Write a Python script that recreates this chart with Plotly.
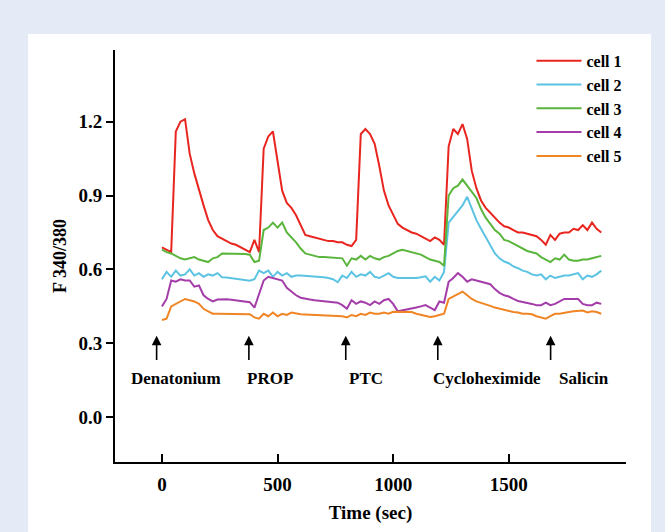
import plotly.graph_objects as go

# ---------------- data ----------------
time_s = list(range(0, 1901, 20))

cell_1 = [0.69, 0.68, 0.67, 1.16, 1.20, 1.21, 1.07, 0.99, 0.92, 0.86,
          0.80, 0.76, 0.735, 0.725, 0.715, 0.705, 0.70, 0.69, 0.68, 0.67,
          0.72, 0.67, 1.09, 1.14, 1.16, 1.03, 0.92, 0.87, 0.85, 0.82,
          0.78, 0.74, 0.735, 0.73, 0.725, 0.72, 0.715, 0.715, 0.71, 0.71,
          0.70, 0.695, 0.72, 1.15, 1.17, 1.15, 1.11, 1.02, 0.92, 0.86,
          0.82, 0.785, 0.77, 0.76, 0.75, 0.745, 0.735, 0.725, 0.715, 0.73,
          0.72, 0.70, 1.10, 1.17, 1.15, 1.19, 1.13, 1.00, 0.93, 0.88,
          0.85, 0.83, 0.81, 0.79, 0.775, 0.77, 0.76, 0.75, 0.75, 0.745,
          0.74, 0.735, 0.72, 0.70, 0.74, 0.72, 0.745, 0.75, 0.75, 0.765,
          0.76, 0.78, 0.76, 0.79, 0.765, 0.75]

cell_2 = [0.56, 0.59, 0.57, 0.595, 0.575, 0.58, 0.60, 0.575, 0.585, 0.57,
          0.58, 0.575, 0.585, 0.568, 0.567, 0.565, 0.562, 0.56, 0.557, 0.554,
          0.56, 0.595, 0.585, 0.595, 0.57, 0.59, 0.575, 0.585, 0.57, 0.575,
          0.575, 0.574, 0.572, 0.571, 0.57, 0.568, 0.565, 0.56, 0.548, 0.575,
          0.565, 0.59, 0.57, 0.58, 0.575, 0.59, 0.57, 0.565, 0.575, 0.585,
          0.57, 0.565, 0.565, 0.564, 0.563, 0.565, 0.568, 0.572, 0.55, 0.57,
          0.555, 0.59, 0.79, 0.815, 0.84, 0.86, 0.895, 0.845, 0.80, 0.765,
          0.73, 0.695, 0.665, 0.645, 0.632, 0.625, 0.612, 0.605, 0.595, 0.59,
          0.58, 0.575, 0.58, 0.56, 0.575, 0.565, 0.57, 0.575, 0.575, 0.58,
          0.585, 0.56, 0.575, 0.57, 0.58, 0.595]

cell_3 = [0.68, 0.67, 0.665, 0.655, 0.645, 0.64, 0.645, 0.65, 0.64, 0.635,
          0.63, 0.645, 0.65, 0.665, 0.665, 0.665, 0.664, 0.664, 0.663, 0.66,
          0.63, 0.635, 0.76, 0.77, 0.79, 0.77, 0.79, 0.75, 0.73, 0.71,
          0.685, 0.665, 0.66, 0.655, 0.65, 0.65, 0.649, 0.649, 0.649, 0.645,
          0.615, 0.645, 0.64, 0.655, 0.64, 0.655, 0.645, 0.64, 0.65, 0.655,
          0.665, 0.675, 0.68, 0.675, 0.67, 0.665, 0.66, 0.65, 0.64, 0.635,
          0.63, 0.615, 0.90, 0.93, 0.94, 0.965, 0.94, 0.915, 0.89, 0.845,
          0.81, 0.785, 0.76, 0.745, 0.72, 0.715, 0.705, 0.695, 0.685, 0.675,
          0.67, 0.665, 0.65, 0.64, 0.63, 0.645, 0.64, 0.66, 0.64, 0.635,
          0.635, 0.64, 0.64, 0.645, 0.65, 0.655]

cell_4 = [0.45, 0.48, 0.555, 0.55, 0.56, 0.555, 0.555, 0.53, 0.535, 0.495,
          0.48, 0.47, 0.478, 0.48, 0.479, 0.477, 0.475, 0.473, 0.47, 0.467,
          0.445, 0.50, 0.555, 0.57, 0.565, 0.56, 0.555, 0.525, 0.51, 0.495,
          0.485, 0.48, 0.478, 0.475, 0.473, 0.47, 0.468, 0.467, 0.465, 0.455,
          0.44, 0.475, 0.46, 0.47, 0.465, 0.455, 0.47, 0.46, 0.475, 0.48,
          0.46, 0.43, 0.433, 0.437, 0.441, 0.445, 0.45, 0.455, 0.445, 0.435,
          0.47, 0.465, 0.55, 0.565, 0.585, 0.57, 0.55, 0.56, 0.555, 0.55,
          0.545, 0.54, 0.52, 0.505, 0.495, 0.49, 0.48, 0.472, 0.468, 0.465,
          0.46, 0.455, 0.455, 0.465, 0.455, 0.46, 0.47, 0.48, 0.48, 0.48,
          0.48, 0.46, 0.455, 0.455, 0.465, 0.46]

cell_5 = [0.395, 0.40, 0.45, 0.46, 0.47, 0.48, 0.475, 0.47, 0.46, 0.44,
          0.43, 0.42, 0.42, 0.42, 0.42, 0.42, 0.42, 0.42, 0.42, 0.418,
          0.405, 0.40, 0.42, 0.41, 0.425, 0.41, 0.42, 0.415, 0.425, 0.42,
          0.418, 0.417, 0.416, 0.415, 0.414, 0.413, 0.412, 0.41, 0.408, 0.41,
          0.405, 0.415, 0.41, 0.42, 0.415, 0.425, 0.42, 0.42, 0.425, 0.42,
          0.428, 0.427, 0.427, 0.427, 0.427, 0.42, 0.415, 0.41, 0.407, 0.41,
          0.415, 0.42, 0.48, 0.49, 0.50, 0.51, 0.495, 0.48, 0.47, 0.465,
          0.458, 0.452, 0.445, 0.44, 0.435, 0.43, 0.427, 0.425, 0.42, 0.42,
          0.418, 0.41, 0.405, 0.40, 0.41, 0.42, 0.42, 0.425, 0.427, 0.43,
          0.43, 0.433, 0.425, 0.43, 0.427, 0.42]

series_names = ["cell 1", "cell 2", "cell 3", "cell 4", "cell 5"]
series_values = [cell_1, cell_2, cell_3, cell_4, cell_5]

stimulus_names = ["Denatonium", "PROP", "PTC", "Cycloheximide", "Salicin"]
stimulus_times = [-23, 376, 795, 1193, 1681]
stimulus_label_x = [60, 467, 882, 1404, 1824]

x_tick_vals = [0, 500, 1000, 1500]
y_tick_vals = [0.0, 0.3, 0.6, 0.9, 1.2]
y_tick_text = ["0.0", "0.3", "0.6", "0.9", "1.2"]

# ---------------- styling ----------------
colors = ["#e8261f", "#5cc3e2", "#5ab53c", "#a43da9", "#f08526"]
FONT = "Liberation Serif"

fig = go.Figure()
for name, vals, col in zip(series_names, series_values, colors):
    fig.add_trace(go.Scatter(x=time_s, y=vals, mode="lines", name=name,
                             line=dict(color=col, width=2)))

annotations = []
for t in stimulus_times:
    annotations.append(dict(x=t, y=0.331, ax=t, ay=0.226, xref="x", yref="y",
                            axref="x", ayref="y", text="", showarrow=True,
                            arrowhead=2, arrowsize=1.2, arrowwidth=1.6,
                            arrowcolor="black"))
for name, lx in zip(stimulus_names, stimulus_label_x):
    annotations.append(dict(x=lx, y=0.157, xref="x", yref="y", text=name,
                            showarrow=False, xanchor="center", yanchor="middle",
                            font=dict(family=FONT, size=17, color="black",
                                      weight="bold")))

fig.update_layout(
    width=665, height=532,
    margin=dict(l=115, r=39, t=50, b=68),
    paper_bgcolor="#e4ebf6",
    plot_bgcolor="white",
    font=dict(family=FONT, color="black"),
    showlegend=True,
    legend=dict(x=0.815, y=1.015, xanchor="left", yanchor="top",
                bgcolor="rgba(0,0,0,0)", borderwidth=0, itemwidth=45,
                font=dict(family=FONT, size=16, color="black", weight="bold"),
                tracegroupgap=0),
    annotations=annotations,
    shapes=[dict(type="rect", xref="paper", yref="paper",
                 x0=-0.170, x1=1.049, y0=-0.17, y1=1.039,
                 fillcolor="white", line=dict(width=0), layer="below")],
    xaxis=dict(range=[-203, 2007], tickvals=x_tick_vals,
               showline=True, linecolor="black", linewidth=2,
               ticks="inside", ticklen=8, tickwidth=2, tickcolor="black",
               showgrid=False, zeroline=False, ticklabelstandoff=4,
               tickfont=dict(family=FONT, size=19, color="black", weight="bold"),
               title=dict(text="Time (sec)", standoff=12,
                          font=dict(family=FONT, size=19, color="black",
                                    weight="bold"))),
    yaxis=dict(range=[-0.182, 1.491], tickvals=y_tick_vals, ticktext=y_tick_text,
               showline=True, linecolor="black", linewidth=2,
               ticks="outside", ticklen=7, tickwidth=2, tickcolor="black",
               showgrid=False, zeroline=False,
               tickfont=dict(family=FONT, size=19, color="black", weight="bold"),
               title=dict(text="F 340/380", standoff=7,
                          font=dict(family=FONT, size=18, color="black",
                                    weight="bold"))),
)

fig.write_html("out.html")
